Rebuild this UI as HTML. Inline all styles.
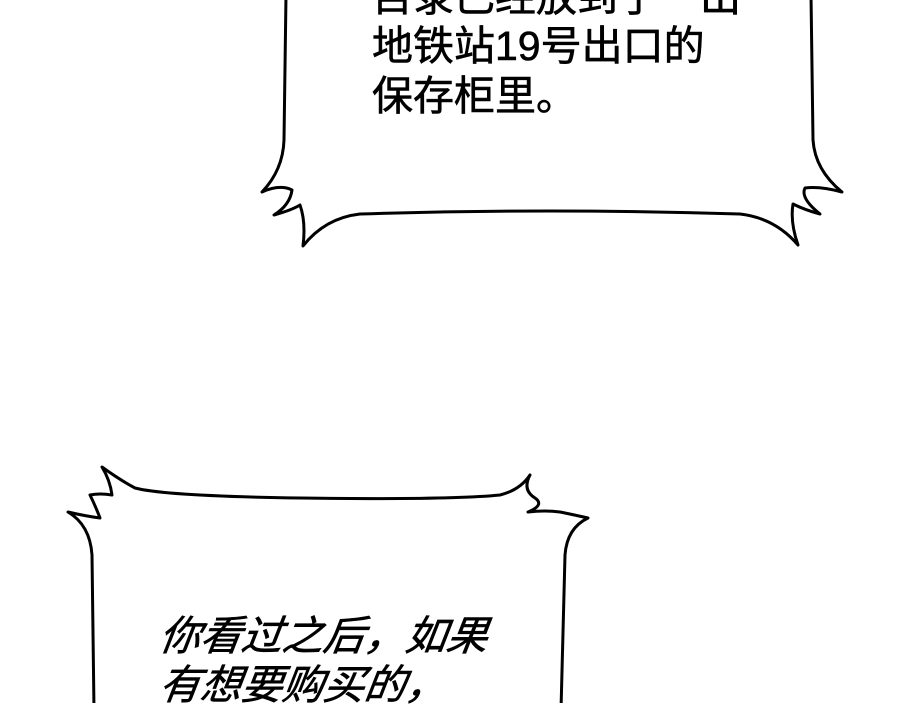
<!DOCTYPE html>
<html><head><meta charset="utf-8"><style>
html,body{margin:0;padding:0;background:#fff;}
body{width:900px;height:703px;position:relative;overflow:hidden;}
svg{position:absolute;left:0;top:0;}
.t{position:absolute;font-family:"Liberation Sans","Noto Sans CJK SC",sans-serif;font-size:41px;line-height:50px;color:#000;white-space:nowrap;-webkit-text-stroke:0.6px #000;}
.i{font-style:italic;transform:skewX(-8deg);}
</style></head><body>
<svg width="900" height="703" viewBox="0 0 900 703">
<g fill="#fff" stroke="#000" stroke-width="3" stroke-linejoin="round">
<path d="M286,-5 L284,140 Q283,170 262,192 Q280,184 292,190 Q290,205 274,215 Q292,210 300,205 Q306,222 303,246 Q325,218 360,214 Q550,208 740,214 Q775,218 798,245 Q790,222 793,204 Q805,210 820,214 Q800,198 805,188 Q820,186 842,192 Q815,170 813,140 L811,-5 Z"/>
<path d="M94,710 L92,555 Q90,525 68,512 Q85,516 100,518 Q95,505 90,495 Q100,493 112,495 Q110,480 102,467 Q120,480 135,488 Q165,496 300,498 Q450,500 500,495 Q520,490 530,475 Q522,490 535,498 Q545,505 528,512 Q545,510 560,512 Q570,514 588,518 Q567,528 565,555 L561,710 Z"/>
</g>
</svg>
<div class="t" style="left:372px;top:-28px;">目录已经放到了一出</div>
<div class="t" style="left:372px;top:21px;">地铁站19号出口的</div>
<div class="t" style="left:372px;top:71px;">保存柜里。</div>
<div class="t i" style="left:160px;top:611px;">你看过之后，如果</div>
<div class="t i" style="left:160px;top:660px;">有想要购买的，</div>
</body></html>
